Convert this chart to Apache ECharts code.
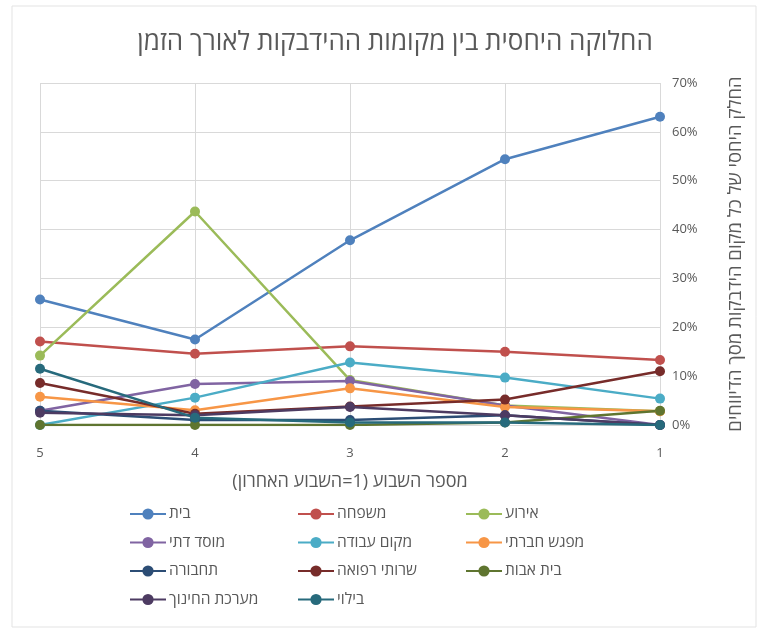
<!DOCTYPE html>
<html>
<head>
<meta charset="utf-8">
<script src="https://cdn.jsdelivr.net/npm/echarts@6/dist/echarts.min.js"></script>
<style>
  html, body { margin: 0; padding: 0; background: #fff; }
  #chart { width: 762px; height: 632px; }
</style>
</head>
<body>
<div id="chart"></div>
<script>
// Weeks, oldest first (1 = most recent week)
const weeks = ['5', '4', '3', '2', '1'];

// Share of reported infections by place (%), per week
const bayit        = [25.7, 17.5, 37.8, 54.4, 63.1];
const mishpacha    = [17.1, 14.6, 16.1, 15.0, 13.3];
const eiru         = [14.2, 43.7, 9.2, 4.0, 2.8];
const mosadDati    = [2.9, 8.4, 9.0, 4.0, 0.0];
const makomAvoda   = [0.0, 5.6, 12.8, 9.7, 5.4];
const mifgash      = [5.8, 3.0, 7.5, 3.7, 2.8];
const tachbura     = [2.9, 1.0, 1.0, 2.0, 0.0];
const refua        = [8.6, 2.3, 3.8, 5.2, 11.0];
const beitAvot     = [0.0, 0.0, 0.0, 0.5, 2.9];
const chinuch      = [2.5, 2.0, 3.7, 2.0, 0.0];
const bilui        = [11.5, 1.5, 0.5, 0.5, 0.0];

const yTicks = [0, 10, 20, 30, 40, 50, 60, 70];

const seriesDefs = [
  ['בית', bayit, '#4F81BD'],
  ['משפחה', mishpacha, '#C0504D'],
  ['אירוע', eiru, '#9BBB59'],
  ['מוסד דתי', mosadDati, '#8064A2'],
  ['מקום עבודה', makomAvoda, '#4BACC6'],
  ['מפגש חברתי', mifgash, '#F79646'],
  ['תחבורה', tachbura, '#2C4D75'],
  ['שרותי רפואה', refua, '#772C2A'],
  ['בית אבות', beitAvot, '#5F7530'],
  ['מערכת החינוך', chinuch, '#4D3B62'],
  ['בילוי', bilui, '#276A7C']
];

const FONT = '"Open Sans", "Liberation Sans", "DejaVu Sans", sans-serif';
const TEXT = '#595959';
const GRID = '#D9D9D9';

const legendBase = {
  orient: 'vertical',
  top: 501,
  itemWidth: 36,
  itemHeight: 14,
  itemGap: 12.5,
  textStyle: { color: TEXT, fontSize: 15.5, fontFamily: FONT, padding: [0, 0, 0, -2] }
};

const option = {
  animation: false,
  backgroundColor: '#fff',
  title: {
    text: 'החלוקה היחסית בין מקומות ההידבקות לאורך הזמן',
    left: 390,
    textAlign: 'center',
    top: 25,
    textStyle: { color: TEXT, fontSize: 26, fontWeight: 'normal', fontFamily: FONT }
  },
  graphic: [{
    type: 'rect',
    shape: { x: 12, y: 6, width: 744, height: 621 },
    style: { fill: 'none', stroke: '#E3E3E3', lineWidth: 1 },
    silent: true
  }],
  legend: [
    Object.assign({}, legendBase, { left: 124, data: ['בית', 'מוסד דתי', 'תחבורה', 'מערכת החינוך'] }),
    Object.assign({}, legendBase, { left: 292, data: ['משפחה', 'מקום עבודה', 'שרותי רפואה', 'בילוי'] }),
    Object.assign({}, legendBase, { left: 460, data: ['אירוע', 'מפגש חברתי', 'בית אבות'] })
  ],
  grid: { left: 40, right: 102, top: 83, bottom: 207 },
  xAxis: {
    type: 'category',
    data: weeks,
    boundaryGap: false,
    axisLine: { show: false },
    axisTick: { show: false },
    axisLabel: { color: TEXT, fontSize: 13, fontFamily: FONT, margin: 22 },
    splitLine: { show: true, lineStyle: { color: GRID, width: 1 } },
    name: 'מספר השבוע (1=השבוע האחרון)',
    nameLocation: 'middle',
    nameGap: 48,
    nameTextStyle: { color: TEXT, fontSize: 18, fontFamily: FONT }
  },
  yAxis: {
    type: 'value',
    position: 'right',
    min: yTicks[0],
    max: yTicks[yTicks.length - 1],
    interval: 10,
    axisLine: { show: false },
    axisTick: { show: false },
    axisLabel: { color: TEXT, fontSize: 13, fontFamily: FONT, margin: 12, formatter: v => v + '%' },
    splitLine: { lineStyle: { color: GRID, width: 1 } },
    name: 'החלק היחסי של כל מקום הידבקות מסך הדיווחים',
    nameLocation: 'middle',
    nameRotate: 90,
    nameGap: 66,
    nameTextStyle: { color: TEXT, fontSize: 18.5, fontFamily: FONT }
  },
  series: seriesDefs.map(([name, values, color]) => ({
    name: name,
    type: 'line',
    data: values,
    symbol: 'circle',
    symbolSize: 10,
    lineStyle: { color: color, width: 2.5 },
    itemStyle: { color: color },
    emphasis: { disabled: true }
  }))
};

echarts.init(document.getElementById('chart')).setOption(option);
</script>
</body>
</html>
